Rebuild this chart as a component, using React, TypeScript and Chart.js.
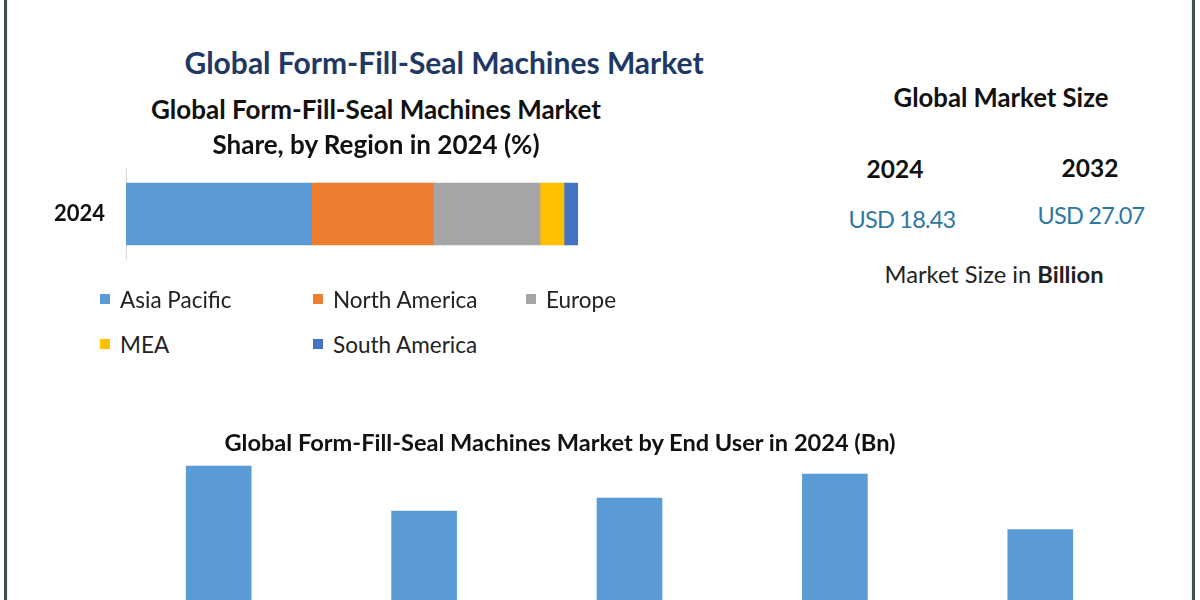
import React, { useEffect, useRef } from "react";
import { Chart, registerables } from "chart.js";

Chart.register(...registerables);

// ---- Data ----
const shareYear = ["2024"];
const regions = ["Asia Pacific", "North America", "Europe", "MEA", "South America"];
const regionShares = [41.0, 27.0, 23.6, 5.3, 3.1];
const regionColors = ["#5b9bd5", "#ed7d31", "#a5a5a5", "#ffc000", "#4472c4"];

const endUsers = ["Food & Beverage", "Pharmaceuticals", "Personal Care", "Chemicals", "Others"];
const endUserValues = [4.28, 3.38, 3.64, 4.12, 3.01];

const marketYears = ["2024", "2032"];
const marketValues = ["USD 18.43", "USD 27.07"];

const FONT = "Lato, 'Open Sans', sans-serif";

function T(props: {
  x: number;
  y: number;
  size: number;
  bold?: boolean;
  color?: string;
  children: React.ReactNode;
  style?: React.CSSProperties;
}) {
  return (
    <div
      style={{
        position: "absolute",
        left: props.x,
        top: props.y,
        transform: "translate(-50%, -50%)",
        whiteSpace: "nowrap",
        fontSize: props.size,
        fontWeight: props.bold ? 700 : 400,
        color: props.color || "#111",
        fontFamily: FONT,
        lineHeight: 1.2,
        ...props.style,
      }}
    >
      {props.children}
    </div>
  );
}

export default function App() {
  const shareRef = useRef<HTMLCanvasElement>(null);
  const endRef = useRef<HTMLCanvasElement>(null);

  useEffect(() => {
    const c1 = new Chart(shareRef.current!, {
      type: "bar",
      data: {
        labels: shareYear,
        datasets: regions.map((r, i) => ({
          label: r,
          data: [regionShares[i]],
          backgroundColor: regionColors[i],
          borderWidth: 0,
          barThickness: 62,
        })),
      },
      options: {
        indexAxis: "y",
        animation: false,
        responsive: false,
        maintainAspectRatio: false,
        layout: { padding: { left: 0, right: 62, top: 20, bottom: 12 } },
        plugins: { legend: { display: false }, tooltip: { enabled: false }, title: { display: false } },
        scales: {
          x: { stacked: true, min: 0, max: 100, display: false },
          y: {
            stacked: true,
            grid: { display: false, drawTicks: false },
            border: { display: true, color: "#d9d9d9", width: 1 },
            ticks: { color: "#111", padding: 21, font: { family: FONT, size: 22, weight: "bold" } },
            afterFit: (s: any) => {
              s.width = 126;
            },
          },
        },
      },
    });

    const c2 = new Chart(endRef.current!, {
      type: "bar",
      data: {
        labels: endUsers,
        datasets: [
          {
            label: "End User",
            data: endUserValues,
            backgroundColor: "#5b9bd5",
            borderWidth: 0,
            barThickness: 65,
          },
        ],
      },
      options: {
        animation: false,
        responsive: false,
        maintainAspectRatio: false,
        layout: { padding: { left: 116, right: 57, top: 10, bottom: 40 } },
        plugins: { legend: { display: false }, tooltip: { enabled: false }, title: { display: false } },
        scales: {
          x: { display: false },
          y: { display: false, min: 0, max: 5 },
        },
      },
    });

    return () => {
      c1.destroy();
      c2.destroy();
    };
  }, []);

  return (
    <div
      style={{
        position: "fixed",
        left: 0,
        top: 0,
        width: 1200,
        height: 600,
        overflow: "hidden",
        background: "#ffffff",
        fontFamily: FONT,
      }}
    >
      <div style={{ position: "absolute", left: 4, top: 0, width: 3, height: 600, background: "#3c4f55" }} />
      <div style={{ position: "absolute", left: 7, top: 0, width: 1, height: 600, background: "#e6f6f8" }} />
      <div style={{ position: "absolute", left: 1192, top: 0, width: 3, height: 600, background: "#3c4f55" }} />
      <div style={{ position: "absolute", left: 1191, top: 0, width: 1, height: 600, background: "#e0f4f7" }} />

      <canvas
        ref={shareRef}
        width={640}
        height={160}
        style={{ position: "absolute", left: 0, top: 134, width: 640, height: 160 }}
      />
      <canvas
        ref={endRef}
        width={1200}
        height={300}
        style={{ position: "absolute", left: 0, top: 420, width: 1200, height: 300 }}
      />

      <T x={444} y={62} size={30} bold color="#1f3864">
        Global Form-Fill-Seal Machines Market
      </T>
      <T x={376} y={110} size={26} bold>
        Global Form-Fill-Seal Machines Market
      </T>
      <T x={376} y={145} size={26} bold>
        Share, by Region in 2024 (%)
      </T>

      {regions.map((r, i) => {
        const col = i % 3;
        const row = Math.floor(i / 3);
        const x = 100 + col * 213;
        const y = 299 + row * 45;
        return (
          <div key={r} style={{ position: "absolute", left: x, top: y - 15, height: 30, display: "flex", alignItems: "center" }}>
            <div style={{ width: 10, height: 10, background: regionColors[i], marginRight: 10 }} />
            <span style={{ fontSize: 22.5, color: "#222", fontFamily: FONT, whiteSpace: "nowrap" }}>{r}</span>
          </div>
        );
      })}

      <T x={1001} y={97} size={25.7} bold>
        Global Market Size
      </T>
      <T x={895} y={169} size={24.5} bold>
        {marketYears[0]}
      </T>
      <T x={1090} y={168} size={24.5} bold>
        {marketYears[1]}
      </T>
      <T x={902} y={219} size={23.5} color="#2e78a0" style={{ letterSpacing: -0.8 }}>
        {marketValues[0]}
      </T>
      <T x={1091} y={215} size={23.5} color="#2e78a0" style={{ letterSpacing: -0.8 }}>
        {marketValues[1]}
      </T>
      <T x={994} y={274} size={23.7} color="#222">
        Market Size in <b>Billion</b>
      </T>

      <T x={560} y={442} size={23.6} bold>
        Global Form-Fill-Seal Machines Market by End User in 2024 (Bn)
      </T>
    </div>
  );
}
